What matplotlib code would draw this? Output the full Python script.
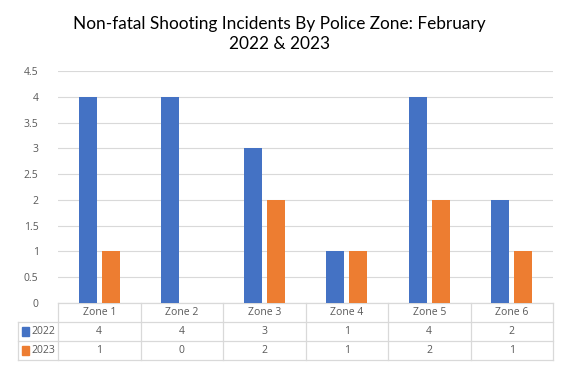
import matplotlib.pyplot as plt
import numpy as np
from matplotlib.lines import Line2D
from matplotlib.patches import Rectangle

zonas = ['Zone 1', 'Zone 2', 'Zone 3', 'Zone 4', 'Zone 5', 'Zone 6']
anios = ['2022', '2023']
valores_2022 = [4, 4, 3, 1, 4, 2]
valores_2023 = [1, 0, 2, 1, 2, 1]
colores = ['#4472C4', '#ED7D31']
yticks = [0, 0.5, 1, 1.5, 2, 2.5, 3, 3.5, 4, 4.5]

gris_texto = '#595959'
gris_linea = '#d9d9d9'

fig = plt.figure(figsize=(5.64, 3.67), dpi=100)
ax = fig.add_axes([58 / 564, 1 - 303 / 367, 495 / 564, 232 / 367])

x = np.arange(len(zonas))
ancho = 0.22
ax.bar(x - 0.14, valores_2022, ancho, color=colores[0], zorder=3)
ax.bar(x + 0.14, valores_2023, ancho, color=colores[1], zorder=3)

ax.set_xlim(-0.5, len(zonas) - 0.5)
ax.set_ylim(0, 4.5)
ax.set_yticks(yticks)
ax.set_yticklabels([f'{v:g}' for v in yticks], fontsize=7.5, color=gris_texto,
                   family='Open Sans')
ax.tick_params(axis='y', length=0, pad=14)
ax.set_xticks([])
ax.grid(axis='y', color=gris_linea, linewidth=0.8, zorder=0)
for s in ax.spines.values():
    s.set_visible(False)

# Tabla de datos
trans = ax.get_xaxis_transform()
fila = 19 / 232
izq = -0.5 - 40 / 82.5
der = len(zonas) - 0.5
kw = dict(color=gris_linea, linewidth=0.9, transform=trans, clip_on=False)

ax.add_line(Line2D([-0.5, der], [0, 0], **kw))
for k in range(1, 4):
    ax.add_line(Line2D([izq, der], [-k * fila, -k * fila], **kw))
for k in range(len(zonas) + 1):
    ax.add_line(Line2D([k - 0.5, k - 0.5], [0, -3 * fila], **kw))
ax.add_line(Line2D([izq, izq], [-fila, -3 * fila], **kw))

txt = dict(transform=trans, ha='center', va='center', fontsize=7.5,
           color=gris_texto, family='Open Sans', clip_on=False)
for i, z in enumerate(zonas):
    ax.text(i, -0.5 * fila, z, **txt)
    ax.text(i, -1.5 * fila, str(valores_2022[i]), **txt)
    ax.text(i, -2.5 * fila, str(valores_2023[i]), **txt)

for j, (anio, c) in enumerate(zip(anios, colores)):
    yc = -(j + 1.5) * fila
    ax.add_patch(Rectangle((izq + 0.05, yc - 0.018), 0.085, 0.036,
                           color=c, transform=trans, clip_on=False))
    ax.text(izq + 0.16, yc, anio, transform=trans, ha='left', va='center',
            fontsize=7.5, color=gris_texto, family='Open Sans', clip_on=False)

fig.text(0.496, 0.907, 'Non-fatal Shooting Incidents By Police Zone: February\n2022 & 2023',
         ha='center', va='center', fontsize=12.4, family='Lato', color='#000000',
         linespacing=1.35)

fig.savefig('out.png', dpi=100)
